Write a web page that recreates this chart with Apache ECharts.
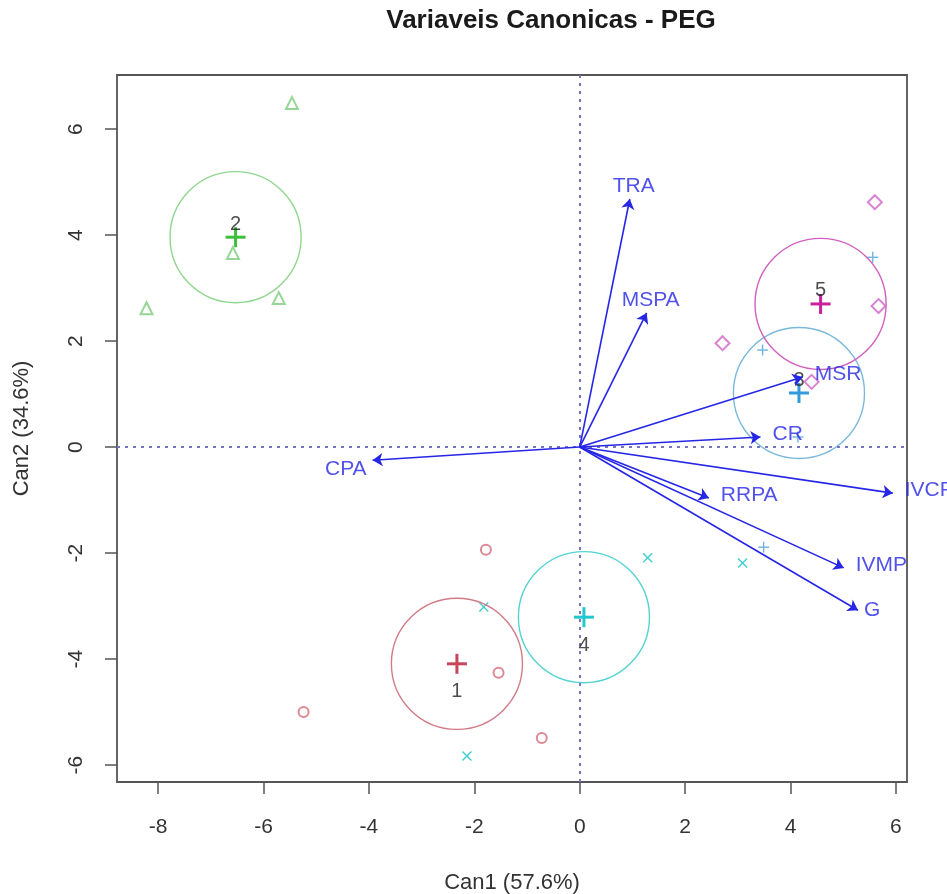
<!DOCTYPE html>
<html><head><meta charset="utf-8">
<script src="https://cdn.jsdelivr.net/npm/echarts@6/dist/echarts.min.js"></script>
<style>html,body{margin:0;padding:0;background:#fff}#chart{width:947px;height:894px}</style>
</head><body><div id="chart"></div>
<script>
// ---------- data ----------
const titleText = 'Variaveis Canonicas - PEG';
const xAxisName = 'Can1 (57.6%)';
const yAxisName = 'Can2 (34.6%)';
const xTicks = [-8, -6, -4, -2, 0, 2, 4, 6];
const yTicks = [-6, -4, -2, 0, 2, 4, 6];
const groupNames = ['1', '2', '3', '4', '5'];
const g1X = [-1.78, -1.54, -5.24, -0.72];
const g1Y = [-1.94, -4.26, -5.00, -5.49];
const g2X = [-5.46, -6.58, -5.71, -8.22];
const g2Y = [6.49, 3.66, 2.81, 2.62];
const g3X = [5.56, 3.47, 3.49, 4.14];
const g3Y = [3.58, 1.83, -1.89, 0.19];
const g4X = [1.29, -1.82, -2.14, 3.09];
const g4Y = [-2.09, -3.02, -5.83, -2.19];
const g5X = [5.60, 5.67, 2.71, 4.40];
const g5Y = [4.62, 2.66, 1.96, 1.23];
const meanX = [-2.33, -6.53, 4.16, 0.08, 4.57];
const meanY = [-4.09, 3.96, 1.02, -3.21, 2.70];
const circleRadius = 1.24;
const vecNames = ['TRA', 'MSPA', 'MSR', 'CR', 'CPA', 'RRPA', 'IVCP', 'IVMP', 'G'];
const vecX = [0.95, 1.27, 4.23, 3.43, -3.93, 2.45, 5.94, 5.01, 5.28];
const vecY = [4.68, 2.53, 1.32, 0.19, -0.25, -0.96, -0.87, -2.28, -3.08];

// ---------- styles ----------
const FONT = '"Liberation Sans", Arial, sans-serif';
const ptColors = ['#d46a7a', '#7ccc7c', '#6fb4e0', '#3fcfcf', '#d064c8'];
const meanColors = ['#c8465a', '#3cbf3c', '#3399dd', '#22c8d0', '#cc1f9f'];
const circColors = ['#d27b88', '#8fd68f', '#7ab9dc', '#55d2d2', '#d060c0'];
const groupLabelPos = ['bottom', 'top', 'top', 'bottom', 'top'];
const groupLabelDist = [18, 3, 3, 18, 3];
const vecColor = '#2626e6';

const pairs = (xs, ys) => xs.map((x, i) => [x, ys[i]]);

function glyphSeries(data, color, kind, half, lw, z) {
  return {
    type: 'custom', coordinateSystem: 'cartesian2d', z: z, silent: true,
    data: data,
    renderItem: function (params, api) {
      const p = api.coord([api.value(0), api.value(1)]);
      const h = half;
      const segs = kind === 'plus'
        ? [[p[0] - h, p[1], p[0] + h, p[1]], [p[0], p[1] - h, p[0], p[1] + h]]
        : [[p[0] - h, p[1] - h, p[0] + h, p[1] + h], [p[0] - h, p[1] + h, p[0] + h, p[1] - h]];
      return {
        type: 'group',
        children: segs.map(s => ({
          type: 'line',
          shape: { x1: s[0], y1: s[1], x2: s[2], y2: s[3] },
          style: { stroke: color, lineWidth: lw }
        }))
      };
    }
  };
}

const series = [];
// reference dotted lines
series.push({
  type: 'scatter', data: [], z: 1, silent: true,
  markLine: {
    silent: true, symbol: ['none', 'none'], label: { show: false },
    lineStyle: { type: [3, 5], color: '#7575c4', width: 2 },
    data: [{ xAxis: 0 }, { yAxis: 0 }]
  }
});
// group points
series.push({ type: 'scatter', z: 3, silent: true, symbol: 'emptyCircle', symbolSize: 10,
  itemStyle: { color: ptColors[0], borderWidth: 1.3 }, data: pairs(g1X, g1Y) });
series.push({ type: 'scatter', z: 3, silent: true, symbol: 'emptyTriangle', symbolSize: 12,
  itemStyle: { color: ptColors[1], borderWidth: 1.3 }, data: pairs(g2X, g2Y) });
series.push(glyphSeries(pairs(g3X, g3Y), ptColors[2], 'plus', 5.5, 1.4, 3));
series.push(glyphSeries(pairs(g4X, g4Y), ptColors[3], 'cross', 4.5, 1.4, 3));
series.push({ type: 'scatter', z: 3, silent: true, symbol: 'emptyDiamond', symbolSize: 14,
  itemStyle: { color: ptColors[4], borderWidth: 1.3 }, data: pairs(g5X, g5Y) });
// group circles
series.push({
  type: 'custom', coordinateSystem: 'cartesian2d', z: 4, silent: true,
  data: meanX.map((x, i) => [x, meanY[i], i]),
  renderItem: function (params, api) {
    const c = api.coord([api.value(0), api.value(1)]);
    const r = api.size([circleRadius, circleRadius]);
    return {
      type: 'circle',
      shape: { cx: c[0], cy: c[1], r: (r[0] + r[1]) / 2 },
      style: { fill: 'none', stroke: circColors[api.value(2)], lineWidth: 1.4 }
    };
  }
});
// group means (+) and labels
meanX.forEach((x, i) => {
  series.push(glyphSeries([[x, meanY[i]]], meanColors[i], 'plus', 10, 3, 5));
});
series.push({
  type: 'scatter', z: 6, silent: true, symbolSize: 0,
  data: meanX.map((x, i) => ({
    value: [x, meanY[i]],
    label: { show: true, formatter: groupNames[i], position: groupLabelPos[i], distance: groupLabelDist[i],
      fontSize: 20, fontFamily: FONT, color: '#222' }
  }))
});
// vectors
series.push({
  type: 'lines', coordinateSystem: 'cartesian2d', z: 7, silent: true,
  symbol: ['none', 'arrow'], symbolSize: 10,
  lineStyle: { color: vecColor, width: 1.6, opacity: 1 },
  data: vecNames.map((n, i) => ({ coords: [[0, 0], [vecX[i], vecY[i]]] }))
});
series.push({
  type: 'scatter', z: 8, silent: true, symbolSize: 0,
  data: vecNames.map((n, i) => {
    const ang = Math.atan2(vecY[i], vecX[i]) * 180 / Math.PI;
    let pos = 'right', off = [0, 0];
    if (ang > 55 && ang < 125) { pos = 'top'; off = [4, 0]; }
    else if (vecX[i] < 0) { pos = 'left'; off = [0, 9]; }
    else if (Math.abs(ang) < 25) { off = [6, -3]; }
    return {
      value: [vecX[i], vecY[i]],
      label: { show: true, formatter: n, position: pos, distance: pos === 'top' ? 2 : 6, offset: off,
        fontSize: 21, fontFamily: FONT, color: vecColor }
    };
  })
});

const chart = echarts.init(document.getElementById('chart'), null, { renderer: 'canvas' });
chart.setOption({
  animation: false,
  backgroundColor: '#fff',
  graphic: [{
    type: 'text', x: 551, y: 21,
    style: { text: titleText, font: 'bold 26px "Liberation Sans", Arial, sans-serif', fill: '#1a1a1a',
      textAlign: 'center', textVerticalAlign: 'middle' }
  }],
  grid: { left: 117, right: 40, top: 75, bottom: 112, show: true, borderColor: '#555', borderWidth: 1.8,
    containLabel: false, outerBoundsMode: 'none' },
  xAxis: {
    type: 'value', min: -8.78, max: 6.21,
    name: xAxisName, nameLocation: 'middle', nameGap: 90,
    nameTextStyle: { fontSize: 22, fontFamily: FONT, color: '#333' },
    axisLine: { show: false, onZero: false },
    axisTick: { show: true, length: 12, inside: false, customValues: xTicks, lineStyle: { color: '#555', width: 1.5 } },
    axisLabel: { show: true, customValues: xTicks, margin: 35, fontSize: 21, fontFamily: FONT, color: '#333' },
    splitLine: { show: false }
  },
  yAxis: {
    type: 'value', min: -6.32, max: 7.02,
    name: yAxisName, nameLocation: 'middle', nameGap: 84, nameRotate: 90,
    nameTextStyle: { fontSize: 22, fontFamily: FONT, color: '#333' },
    axisLine: { show: false, onZero: false },
    axisTick: { show: true, length: 12, inside: false, customValues: yTicks, lineStyle: { color: '#555', width: 1.5 } },
    axisLabel: { show: true, customValues: yTicks, rotate: 90, margin: 30, fontSize: 21, fontFamily: FONT, color: '#333' },
    splitLine: { show: false }
  },
  series: series
});
</script>
</body></html>
